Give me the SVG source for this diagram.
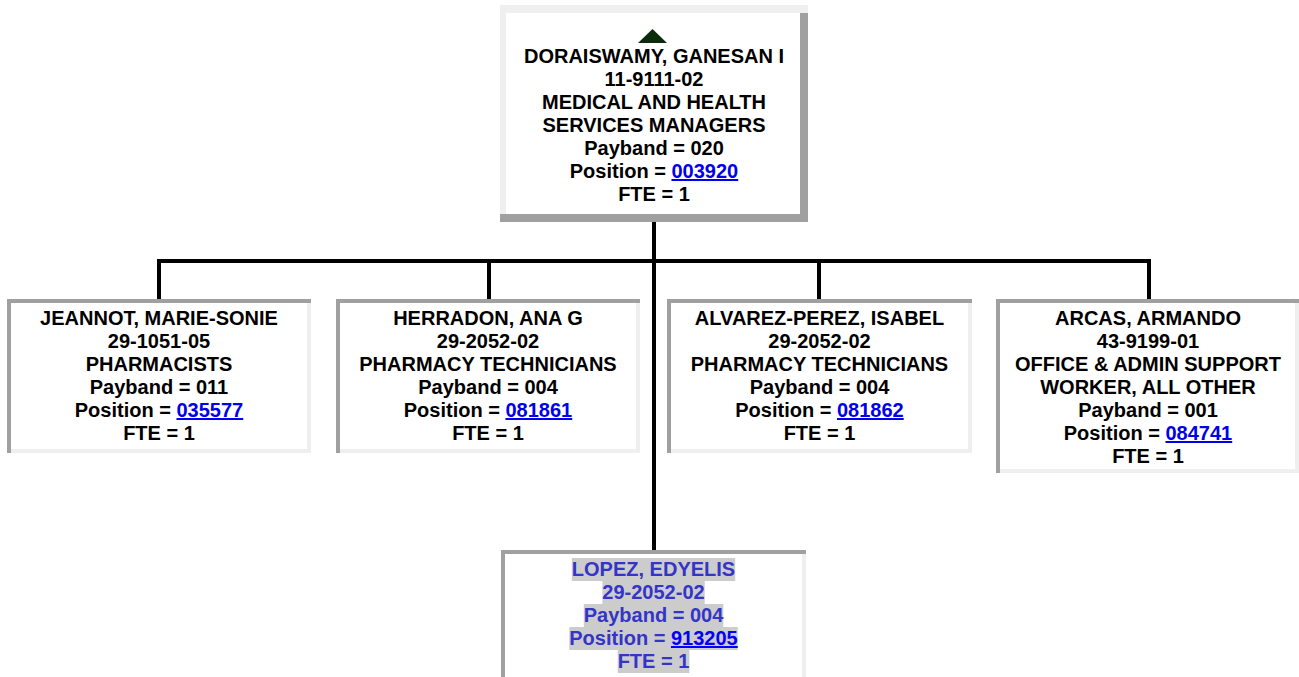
<svg xmlns="http://www.w3.org/2000/svg" width="1299" height="677" viewBox="0 0 1299 677">
<style>
  text { font-family: "Liberation Sans", Arial, sans-serif; font-weight: bold; font-size: 20px; text-anchor: middle; fill: #000; }
  .lnk { fill: #0000ee; text-decoration: underline; }
  .sel { fill: #3434c8; }
  .sel .lnk { fill: #0000ff; }
  .hl { fill: #cccccc; }
  .light { fill: #efefef; }
  .dark { fill: #a0a0a0; }
  .conn { stroke: #000; stroke-width: 4; fill: none; }
</style>
<rect width="1299" height="677" fill="#fff"/>

<g id="connectors">
  <line class="conn" x1="654" y1="222" x2="654" y2="550"/>
  <line class="conn" x1="157" y1="261" x2="1151" y2="261"/>
  <line class="conn" x1="159" y1="259" x2="159" y2="299"/>
  <line class="conn" x1="489" y1="259" x2="489" y2="299"/>
  <line class="conn" x1="819" y1="259" x2="819" y2="299"/>
  <line class="conn" x1="1149" y1="259" x2="1149" y2="299"/>
</g>

<g id="node-doraiswamy">
  <rect x="500" y="5" width="308" height="217" fill="#fff"/>
  <rect class="light" x="500" y="5" width="308" height="8"/>
  <rect class="light" x="500" y="13" width="6" height="201"/>
  <rect class="dark" x="800" y="13" width="8" height="209"/>
  <rect class="dark" x="500" y="214" width="308" height="8"/>
  <polygon points="638,43 667,43 652.5,29" fill="#0c2a0c"/>
  <text x="654" y="63">DORAISWAMY, GANESAN I</text>
  <text x="654" y="86">11-9111-02</text>
  <text x="654" y="109">MEDICAL AND HEALTH</text>
  <text x="654" y="132">SERVICES MANAGERS</text>
  <text x="654" y="155">Payband = 020</text>
  <text x="654" y="178">Position = <tspan class="lnk">003920</tspan></text>
  <text x="654" y="201">FTE = 1</text>
</g>

<g id="node-jeannot">
  <rect x="7" y="299" width="304" height="154" fill="#fff"/>
  <rect class="dark" x="7" y="299" width="304" height="4"/>
  <rect class="dark" x="7" y="303" width="4" height="150"/>
  <rect class="light" x="307" y="303" width="4" height="150"/>
  <rect class="light" x="11" y="449" width="300" height="4"/>
  <text x="159" y="325">JEANNOT, MARIE-SONIE</text>
  <text x="159" y="348">29-1051-05</text>
  <text x="159" y="371">PHARMACISTS</text>
  <text x="159" y="394">Payband = 011</text>
  <text x="159" y="417">Position = <tspan class="lnk">035577</tspan></text>
  <text x="159" y="440">FTE = 1</text>
</g>

<g id="node-herradon">
  <rect x="336" y="299" width="304" height="154" fill="#fff"/>
  <rect class="dark" x="336" y="299" width="304" height="4"/>
  <rect class="dark" x="336" y="303" width="4" height="150"/>
  <rect class="light" x="636" y="303" width="4" height="150"/>
  <rect class="light" x="340" y="449" width="300" height="4"/>
  <text x="488" y="325">HERRADON, ANA G</text>
  <text x="488" y="348">29-2052-02</text>
  <text x="488" y="371">PHARMACY TECHNICIANS</text>
  <text x="488" y="394">Payband = 004</text>
  <text x="488" y="417">Position = <tspan class="lnk">081861</tspan></text>
  <text x="488" y="440">FTE = 1</text>
</g>

<g id="node-alvarez">
  <rect x="667" y="299" width="305" height="154" fill="#fff"/>
  <rect class="dark" x="667" y="299" width="305" height="4"/>
  <rect class="dark" x="667" y="303" width="4" height="150"/>
  <rect class="light" x="968" y="303" width="4" height="150"/>
  <rect class="light" x="671" y="449" width="301" height="4"/>
  <text x="819.5" y="325">ALVAREZ-PEREZ, ISABEL</text>
  <text x="819.5" y="348">29-2052-02</text>
  <text x="819.5" y="371">PHARMACY TECHNICIANS</text>
  <text x="819.5" y="394">Payband = 004</text>
  <text x="819.5" y="417">Position = <tspan class="lnk">081862</tspan></text>
  <text x="819.5" y="440">FTE = 1</text>
</g>

<g id="node-arcas">
  <rect x="996" y="299" width="303" height="174" fill="#fff"/>
  <rect class="dark" x="996" y="299" width="303" height="4"/>
  <rect class="dark" x="996" y="303" width="4" height="170"/>
  <rect class="light" x="1295" y="303" width="4" height="170"/>
  <rect class="light" x="1000" y="469" width="299" height="4"/>
  <text x="1148" y="325">ARCAS, ARMANDO</text>
  <text x="1148" y="348">43-9199-01</text>
  <text x="1148" y="371">OFFICE &amp; ADMIN SUPPORT</text>
  <text x="1148" y="394">WORKER, ALL OTHER</text>
  <text x="1148" y="417">Payband = 001</text>
  <text x="1148" y="440">Position = <tspan class="lnk">084741</tspan></text>
  <text x="1148" y="463">FTE = 1</text>
</g>

<g id="node-lopez">
  <rect x="501" y="550" width="305" height="130" fill="#fff"/>
  <rect class="dark" x="501" y="550" width="305" height="4"/>
  <rect class="dark" x="501" y="554" width="4" height="126"/>
  <rect class="light" x="802" y="554" width="4" height="126"/>
  <rect class="hl" x="571.8" y="558" width="163.4" height="23"/>
  <rect class="hl" x="602.4" y="581" width="102.3" height="23"/>
  <rect class="hl" x="583.8" y="604" width="139.5" height="23"/>
  <rect class="hl" x="569.3" y="627" width="168.4" height="23"/>
  <rect class="hl" x="617.7" y="650" width="71.7" height="23"/>
  <g class="sel">
    <text class="sel" x="653.5" y="576">LOPEZ, EDYELIS</text>
    <text class="sel" x="653.5" y="599">29-2052-02</text>
    <text class="sel" x="653.5" y="622">Payband = 004</text>
    <text class="sel" x="653.5" y="645">Position = <tspan class="lnk">913205</tspan></text>
    <text class="sel" x="653.5" y="668">FTE = 1</text>
  </g>
</g>
</svg>
